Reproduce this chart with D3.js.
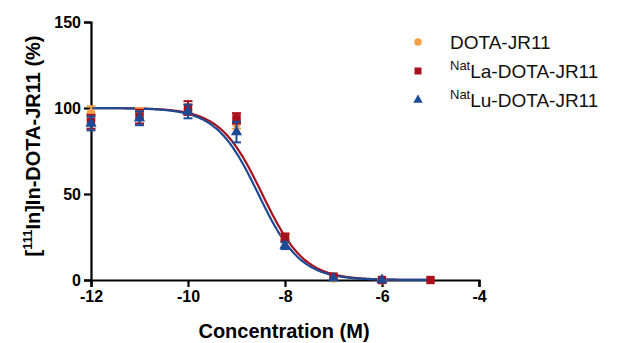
<!DOCTYPE html>
<html>
<head>
<meta charset="utf-8">
<script src="https://cdn.jsdelivr.net/npm/d3@7"></script>
<style>
  body { margin: 0; background: #fff; }
  text { font-family: "Liberation Sans", Arial, sans-serif; }
</style>
</head>
<body>
<div id="chart"></div>
<script>
// Données (log concentration en M)
const concentrations = [-12, -11, -10, -9, -8, -7, -6, -5];

// DOTA-JR11
const dotaValues = [97, 97, 99, 91, 24, 1, 0, null];
const dotaErrors = [4, 3, 3, 3, 2, 1, 1, null];
// NatLa-DOTA-JR11
const laValues = [92, 95, 100, 94, 25, 2, 0, 0];
const laErrors = [4, 4, 4, 3, 2, 1, 1, 1];
// NatLu-DOTA-JR11
const luValues = [91, 94, 98, 86, 20, 1, 0, null];
const luErrors = [4, 4, 4, 6, 2, 1, 1, null];

// Paramètres de l'ajustement sigmoïde (top, bottom, logIC50, pente)
const laFit = [100, 0, -8.47, -1];
const luFit = [100, 0, -8.55, -1];

const xTicks = [-12, -10, -8, -6, -4];
const yTicks = [0, 50, 100, 150];

const width = 621;
const height = 343;

const svg = d3.select("#chart")
    .append("svg")
    .attr("width", width)
    .attr("height", height);

const x = d3.scaleLinear().domain([-12, -4]).range([91, 479]);
const y = d3.scaleLinear().domain([0, 150]).range([280, 22]);

// Axes
const xAxis = svg.append("g")
    .attr("transform", `translate(0, ${y(0)})`)
    .call(d3.axisBottom(x).tickValues(xTicks).tickSize(7).tickPadding(4).tickFormat(d => d));
const yAxis = svg.append("g")
    .attr("transform", `translate(${x(-12)}, 0)`)
    .call(d3.axisLeft(y).tickValues(yTicks).tickSize(7).tickPadding(3));

[xAxis, yAxis].forEach(a => {
    a.selectAll("path").attr("stroke", "#000").attr("stroke-width", 2.2);
    a.selectAll("line").attr("stroke", "#000").attr("stroke-width", 2.2);
    a.selectAll("text")
        .attr("fill", "#000")
        .attr("font-size", "16px")
        .attr("font-weight", "bold")
        .style("font-family", "'Liberation Sans', Arial, sans-serif");
});
xAxis.selectAll("text").text(d => d < 0 ? "-" + Math.abs(d) : d);

// Titres des axes
svg.append("text")
    .attr("x", 284)
    .attr("y", 338)
    .attr("text-anchor", "middle")
    .attr("font-size", "20px")
    .attr("font-weight", "bold")
    .text("Concentration (M)");

const yTitle = svg.append("text")
    .attr("transform", "translate(40, 146) rotate(-90)")
    .attr("text-anchor", "middle")
    .attr("font-size", "20px")
    .attr("font-weight", "bold");
yTitle.append("tspan").text("[");
yTitle.append("tspan").attr("font-size", "13px").attr("dy", -8).text("111");
yTitle.append("tspan").attr("dy", 8).text("In]In-DOTA-JR11 (%)");

// Courbes ajustées
const sigmoid = (p, v) => p[1] + (p[0] - p[1]) / (1 + Math.pow(10, (p[2] - v) * p[3]));
const curveX = d3.range(-12, -4.99, 0.02);
const line = d3.line().x(d => x(d[0])).y(d => y(d[1])).curve(d3.curveBasis);

const series = [
    { name: "DOTA-JR11", values: dotaValues, errors: dotaErrors, color: "#f5a04a", symbol: d3.symbolCircle, size: 64, fit: null },
    { name: "La-DOTA-JR11", values: laValues, errors: laErrors, color: "#a8101e", symbol: d3.symbolSquare, size: 70, fit: laFit },
    { name: "Lu-DOTA-JR11", values: luValues, errors: luErrors, color: "#1d4a94", symbol: d3.symbolTriangle, size: 55, fit: luFit }
];

series.forEach(s => {
    if (!s.fit) return;
    svg.append("path")
        .datum(curveX.map(v => [v, sigmoid(s.fit, v)]))
        .attr("fill", "none")
        .attr("stroke", s.color)
        .attr("stroke-width", 2.2)
        .attr("d", line);
});

// Points et barres d'erreur
series.forEach(s => {
    const pts = concentrations.map((c, i) => ({ c, v: s.values[i], e: s.errors[i] })).filter(d => d.v !== null);
    const g = svg.append("g");
    pts.forEach(d => {
        if (d.e > 1.5) {
            g.append("line")
                .attr("x1", x(d.c)).attr("x2", x(d.c))
                .attr("y1", y(d.v - d.e)).attr("y2", y(d.v + d.e))
                .attr("stroke", s.color).attr("stroke-width", 2);
            [d.v - d.e, d.v + d.e].forEach(v => {
                g.append("line")
                    .attr("x1", x(d.c) - 4.5).attr("x2", x(d.c) + 4.5)
                    .attr("y1", y(v)).attr("y2", y(v))
                    .attr("stroke", s.color).attr("stroke-width", 2);
            });
        }
        g.append("path")
            .attr("transform", `translate(${x(d.c)}, ${y(d.v)})`)
            .attr("d", d3.symbol().type(s.symbol).size(s.size)())
            .attr("fill", s.color);
    });
});

// Légende
const legend = svg.append("g");
series.forEach((s, i) => {
    const ly = 42 + i * 29;
    legend.append("path")
        .attr("transform", `translate(418, ${ly})`)
        .attr("d", d3.symbol().type(s.symbol).size(s.size * 0.7)())
        .attr("fill", s.color);
    const t = legend.append("text")
        .attr("x", 450)
        .attr("y", ly + 7)
        .attr("font-size", "19px")
        .attr("fill", "#111");
    if (i > 0) {
        t.append("tspan").attr("font-size", "13px").attr("dy", -8).text("Nat");
        t.append("tspan").attr("dy", 8).text(s.name);
    } else {
        t.text(s.name);
    }
});
</script>
</body>
</html>
